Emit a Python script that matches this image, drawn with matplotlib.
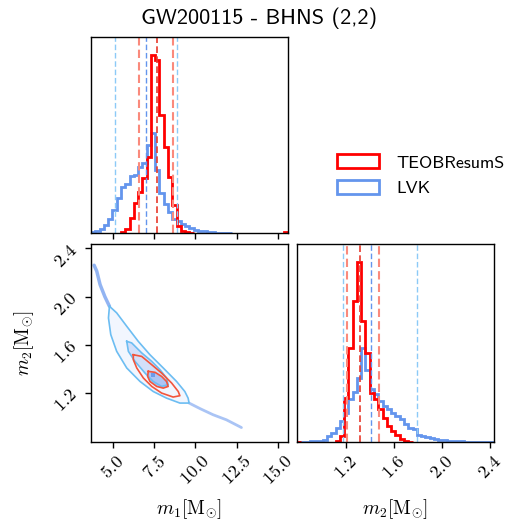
import numpy as np
import matplotlib
matplotlib.use('Agg')
import matplotlib.pyplot as plt
import matplotlib.patches as mpatches

plt.rcParams['mathtext.fontset'] = 'cm'

# Binned posteriors (heights are relative)
m1_edges = np.linspace(3.66, 15.62, 47)
m1_teob = [0, 0, 0, 0, 0, 0, 0, 1, 4.3, 15, 30, 41.5, 55.5, 76, 179, 174,
           119, 86, 56.5, 28.5, 7.5, 1.8, 0.6, 0.2, 0, 0, 0, 0, 0, 0, 0, 0,
           0, 0, 0, 0, 0, 0, 0, 0, 0, 0, 0, 0, 0, 0.8]
m1_lvk = [1.0, 1.6, 4, 8.3, 14, 23.3, 35, 46.6, 49, 57, 58, 66.6, 70, 88, 100.6, 63,
          40.6, 29, 20.6, 14, 11.6, 9.3, 6.6, 5, 3.3, 2.3, 1.5, 1.0, 0.7, 0.4, 0.3, 0.2,
          0.1, 0, 0, 0, 0, 0, 0, 0, 0, 0, 0, 0, 0, 0]

m2_edges = np.linspace(0.794, 2.436, 47)
m2_teob = [0.5, 0, 0, 0, 0, 0, 0, 0, 0, 1, 6, 43.5, 93.5, 140, 179, 120,
           89, 49, 42.5, 32.5, 24.3, 16, 11, 6.6, 2.6, 1, 0.4, 0, 0, 0, 0, 0,
           0, 0, 0, 0, 0, 0, 0, 0, 0, 0, 0, 0, 0, 0]
m2_lvk = [0.3, 0.3, 0.5, 0.7, 1, 1.5, 2, 6, 9.3, 14.3, 21, 29, 42.7, 50, 63.3, 93.3,
          71.7, 52.7, 47.7, 41, 36, 33, 29.3, 26, 22.7, 18, 14.3, 12.7, 7, 6, 4.5, 3.5,
          2.8, 2.2, 1.7, 1.3, 1, 0.8, 0.6, 0.5, 0.4, 0.3, 0.3, 0.2, 0.2, 0.2]

# 16/50/84 quantiles
m1_q_teob = [6.58, 7.67, 8.62]
m1_q_lvk = [5.14, 7.02, 8.90]
m2_q_teob = [1.211, 1.317, 1.478]
m2_q_lvk = [1.18, 1.408, 1.797]

# 2D contours (m1, m2)
lvk_outer_m1 = [4.78, 5.22, 5.83, 6.53, 7.24, 8.05, 8.86, 9.36, 9.56, 9.62, 9.06, 8.25,
                7.44, 6.64, 5.83, 5.22, 4.86, 4.72, 4.78]
lvk_outer_m2 = [1.92, 1.865, 1.754, 1.629, 1.518, 1.408, 1.296, 1.213, 1.158, 1.117, 1.117, 1.158,
                1.213, 1.296, 1.408, 1.546, 1.685, 1.823, 1.92]
lvk_inner_m1 = [5.83, 6.13, 6.74, 7.35, 7.85, 8.25, 8.35, 7.95, 7.44, 6.94, 6.33, 5.93, 5.83]
lvk_inner_m2 = [1.629, 1.616, 1.533, 1.463, 1.394, 1.325, 1.269, 1.255, 1.296, 1.366, 1.463, 1.546, 1.629]
teob_outer_m1 = [6.23, 6.74, 7.35, 7.95, 8.56, 8.96, 9.06, 8.65, 7.95, 7.35, 6.84, 6.44, 6.23, 6.23]
teob_outer_m2 = [1.518, 1.504, 1.435, 1.366, 1.283, 1.213, 1.178, 1.167, 1.2, 1.255, 1.325, 1.408, 1.477, 1.518]
teob_inner_m1 = [7.14, 7.55, 7.95, 8.25, 8.35, 8.05, 7.65, 7.24, 7.1, 7.14]
teob_inner_m2 = [1.38, 1.372, 1.338, 1.296, 1.255, 1.241, 1.255, 1.296, 1.338, 1.38]

# LVK samples outside the contours
tail_up_m1 = [3.85, 4.01, 4.21, 4.5, 4.78]
tail_up_m2 = [2.26, 2.21, 2.10, 2.0, 1.92]
tail_lo_m1 = [9.62, 10.3, 11.08, 11.89, 12.8]
tail_lo_m2 = [1.117, 1.07, 1.02, 0.978, 0.914]
peak_m1, peak_m2 = 7.44, 1.352

m1_ticks = [5.0, 7.5, 10.0, 12.5, 15.0]
m2_ticks = [1.2, 1.6, 2.0, 2.4]
m1_lim = (3.66, 15.62)
m2_lim = (0.794, 2.436)

c_teob = 'red'
c_lvk = 'cornflowerblue'

fig = plt.figure(figsize=(5.18, 5.21), dpi=100)
ax_m1 = fig.add_axes([0.1757, 0.5528, 0.380, 0.376])
ax_2d = fig.add_axes([0.1757, 0.1516, 0.380, 0.380])
ax_m2 = fig.add_axes([0.5734, 0.1516, 0.380, 0.380])


def step(ax, edges, values, color):
    # draw each run of non-empty bins as its own step outline
    v = np.asarray(values, float)
    nz = v > 0
    i = 0
    while i < len(v):
        if nz[i]:
            j = i
            while j < len(v) and nz[j]:
                j += 1
            ax.stairs(v[i:j], edges[i:j + 1], color=color, lw=2, baseline=0)
            i = j
        else:
            i += 1


def hist_panel(ax, edges, teob, lvk, q_teob, q_lvk):
    step(ax, edges, lvk, c_lvk)
    step(ax, edges, teob, c_teob)
    dash = (0, (4, 2))
    ax.axvline(q_lvk[0], color='#8ccaf7', ls=dash, lw=1)
    ax.axvline(q_lvk[2], color='#8ccaf7', ls=dash, lw=1)
    ax.axvline(q_lvk[1], color=c_lvk, ls=dash, lw=1)
    ax.axvline(q_teob[0], color='#fa8a7c', ls=dash, lw=1.5)
    ax.axvline(q_teob[2], color='#fa8a7c', ls=dash, lw=1.5)
    ax.axvline(q_teob[1], color='#e83a2c', ls=dash, lw=1.2)
    ax.set_ylim(0, 1.1 * max(max(teob), max(lvk)))
    ax.set_yticks([])


hist_panel(ax_m1, m1_edges, m1_teob, m1_lvk, m1_q_teob, m1_q_lvk)
hist_panel(ax_m2, m2_edges, m2_teob, m2_lvk, m2_q_teob, m2_q_lvk)

# 2D panel
ax_2d.fill(lvk_outer_m1, lvk_outer_m2, color='#f2f6fe', lw=0)
ax_2d.fill(lvk_inner_m1, lvk_inner_m2, color='#d3dff9', lw=0)
ax_2d.fill(teob_inner_m1, teob_inner_m2, color='#adc4f3', lw=0)
ax_2d.add_patch(mpatches.Rectangle((peak_m1 - 0.13, peak_m2 - 0.018), 0.26, 0.036,
                                   color='#6d9beb', lw=0))
ax_2d.plot(tail_up_m1, tail_up_m2, color=c_lvk, lw=2.5, alpha=0.7, solid_capstyle='round')
ax_2d.plot(tail_lo_m1, tail_lo_m2, color=c_lvk, lw=2, alpha=0.55, solid_capstyle='round')
ax_2d.plot(lvk_outer_m1, lvk_outer_m2, color='#6cbdf2', lw=1.2)
ax_2d.plot(lvk_inner_m1, lvk_inner_m2, color='#6cbdf2', lw=1.2)
ax_2d.plot(teob_outer_m1, teob_outer_m2, color='#f2553c', lw=1.2)
ax_2d.plot(teob_inner_m1, teob_inner_m2, color='#f2553c', lw=1.2)
ax_2d.set_ylim(*m2_lim)

for ax in (ax_m1, ax_2d):
    ax.set_xlim(*m1_lim)
    ax.set_xticks(m1_ticks)
ax_m2.set_xlim(*m2_lim)
ax_m2.set_xticks(m2_ticks)
ax_2d.set_yticks(m2_ticks)

ax_m1.set_xticklabels([])
ax_2d.set_xticklabels([f'${t:.1f}$' for t in m1_ticks], rotation=45, fontsize=13)
ax_2d.set_yticklabels([f'${t:.1f}$' for t in m2_ticks], rotation=45, fontsize=13)
ax_m2.set_xticklabels([f'${t:.1f}$' for t in m2_ticks], rotation=45, fontsize=13)

for ax in (ax_m1, ax_2d, ax_m2):
    ax.tick_params(direction='out', length=4, width=1)
    for s in ax.spines.values():
        s.set_linewidth(1.0)

lab_kw = dict(fontsize=14)
ax_2d.set_xlabel(r'$m_1[\mathrm{M}_{\odot}]$', va='center', **lab_kw)
ax_m2.set_xlabel(r'$m_2[\mathrm{M}_{\odot}]$', va='center', **lab_kw)
ax_2d.set_ylabel(r'$m_2[\mathrm{M}_{\odot}]$', **lab_kw)
ax_2d.xaxis.set_label_coords(0.5, -0.34)
ax_m2.xaxis.set_label_coords(0.5, -0.34)
ax_2d.yaxis.set_label_coords(-0.28, 0.5)

handles = [mpatches.Patch(facecolor='none', edgecolor=c_teob, lw=2, label='TEOBResumS'),
           mpatches.Patch(facecolor='none', edgecolor=c_lvk, lw=2, label='LVK')]
fig.legend(handles=handles, loc='upper left', bbox_to_anchor=(0.62, 0.735),
           frameon=False, prop={'family': 'cmss10', 'size': 13},
           handlelength=2.33, handleheight=0.83, handletextpad=0.95, labelspacing=0.5)

fig.suptitle('GW200115 - BHNS (2,2)', fontsize=16, family='cmss10', y=0.985)

fig.savefig('out.png', dpi=100)
